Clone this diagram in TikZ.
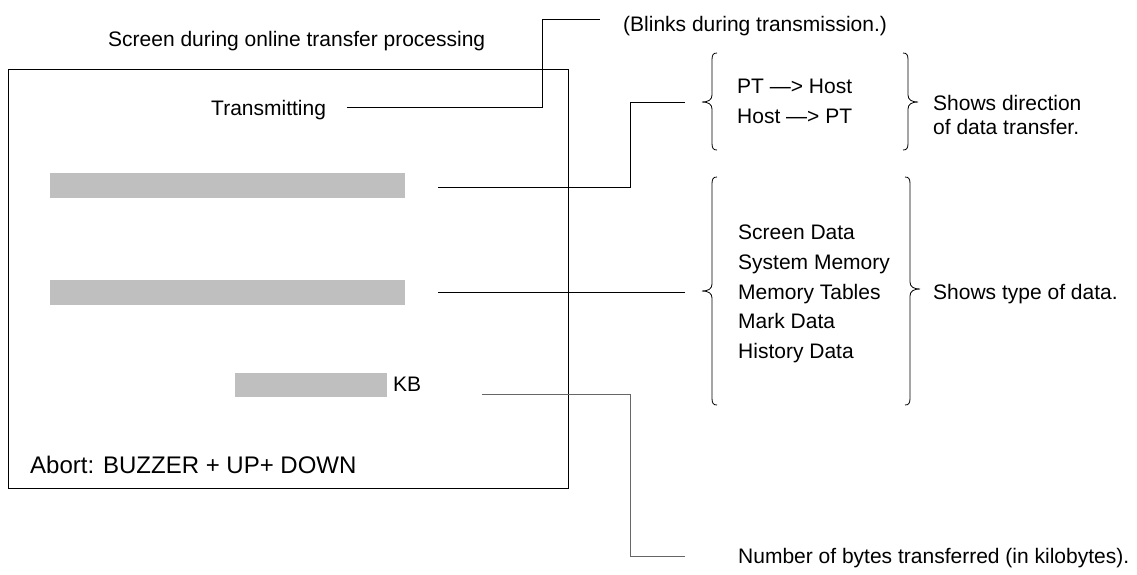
\documentclass[tikz,border=0pt]{standalone}
\usepackage{fontspec}
\setmainfont{Liberation Sans}
\begin{document}
\begin{tikzpicture}[x=1pt,y=-1pt,
  txt/.style={anchor=base west,inner sep=0pt,font=\fontsize{21}{25}\selectfont},
  bigtxt/.style={anchor=base west,inner sep=0pt,font=\fontsize{24}{28}\selectfont},
  bar/.style={fill=black!25,draw=none,inner sep=0pt,anchor=north west},
  conn/.style={draw=black,line width=1pt},
  gconn/.style={draw=black!60,line width=1pt},
  brc/.style={draw=black,line width=0.8pt}]
\useasboundingbox (0,0) rectangle (1137,574);
% screen frame
\node[draw=black,line width=1.2pt,inner sep=0pt,minimum width=560pt,minimum height=419pt,anchor=north west] (scr) at (8,69) {};
% texts
\node[txt] (title) at (108,46.5) {Screen during online transfer processing};
\node[txt] (trans) at (211,115.5) {Transmitting};
\node[txt] (blink) at (623,31) {(Blinks during transmission.)};
\node[txt] (pth) at (737,93) {PT —> Host};
\node[txt] (hpt) at (737,123) {Host —> PT};
\node[txt] (sd1) at (933,110) {Shows direction};
\node[txt] (sd2) at (933,134) {of data transfer.};
\node[txt] (l1) at (738,239.5) {Screen Data};
\node[txt] (l2) at (738,269.3) {System Memory};
\node[txt] (l3) at (738,299) {Memory Tables};
\node[txt] (l4) at (738,328.8) {Mark Data};
\node[txt] (l5) at (738,358.5) {History Data};
\node[txt] (stype) at (933,299.5) {Shows type of data.};
\node[txt] (kb) at (393,391.5) {KB};
\node[bigtxt] (abort) at (30,473) {Abort: BUZZER + UP+ DOWN};
\node[txt] (num) at (738,563.5) {Number of bytes transferred (in kilobytes).};
% gray bars
\node[bar,minimum width=355pt,minimum height=25pt] (bar1) at (50,173) {};
\node[bar,minimum width=355pt,minimum height=25pt] (bar2) at (50,280) {};
\node[bar,minimum width=152pt,minimum height=24pt] (bar3) at (235,373) {};
% connector end points
\coordinate (tS) at (347,107);
\coordinate (tE) at (600,19);
\coordinate (b1S) at (438,187);
\coordinate (b1E) at (685,102);
\coordinate (b2S) at (438,292);
\coordinate (b2E) at (685,292);
\coordinate (kS) at (482,394);
\coordinate (kE) at (685,556);
% connectors
\draw[conn] (tS) -- (542,107) |- (tE);
\draw[conn] (b1S) -- (630,187) |- (b1E);
\draw[conn] (b2S) -- (b2E);
\draw[gconn] (kS) -- (630,394) |- (kE);
% brace 1 left
\draw[brc] (717,53) .. controls (713,53) and (712,55) .. (712,60) -- (712,95)
  .. controls (712,100) and (708,102) .. (702,102)
  .. controls (708,102) and (712,104) .. (712,109) -- (712,143)
  .. controls (712,148) and (713,150) .. (717,150);
% brace 1 right
\draw[brc] (903,53) .. controls (907,53) and (908,55) .. (908,60) -- (908,95)
  .. controls (908,100) and (912,102) .. (918,102)
  .. controls (912,102) and (908,104) .. (908,109) -- (908,143)
  .. controls (908,148) and (907,150) .. (903,150);
% brace 2 left
\draw[brc] (717,177) .. controls (713,177) and (712,179) .. (712,184) -- (712,284)
  .. controls (712,289) and (708,291) .. (702,291)
  .. controls (708,291) and (712,293) .. (712,298) -- (712,398)
  .. controls (712,403) and (713,405) .. (717,405);
% brace 2 right
\draw[brc] (905,177) .. controls (909,177) and (910,179) .. (910,184) -- (910,282)
  .. controls (910,287) and (914,289) .. (920,289)
  .. controls (914,289) and (910,291) .. (910,296) -- (910,398)
  .. controls (910,403) and (909,405) .. (905,405);
\end{tikzpicture}
\end{document}
